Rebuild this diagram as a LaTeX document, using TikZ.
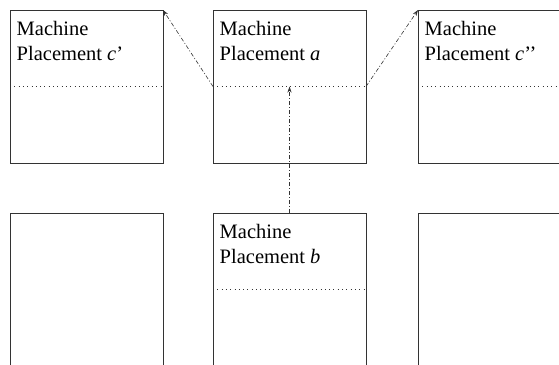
\documentclass[tikz,border=0pt]{standalone}
\usepackage{fontspec}
\setmainfont{Liberation Serif}
\usetikzlibrary{positioning,arrows.meta}
\begin{document}
\begin{tikzpicture}[x=1pt,y=1pt]
        \tikzstyle{placebox}=[rectangle,draw=black!80,line width=0.8pt,minimum width=153pt,minimum height=153pt,outer sep=0pt,inner sep=0pt]
        \tikzstyle{placetext}=[anchor=north west,align=left,inner xsep=6.5pt,inner ysep=11.5pt,font=\fontsize{20.5}{25}\selectfont]
        \tikzstyle{splitline}=[draw=black!80,line width=0.6pt,dash pattern=on 0.8pt off 3.5pt]
        \tikzstyle{moveline}=[draw=black!80,line width=0.6pt,dash pattern=on 4pt off 2pt on 1pt off 2pt,-{Stealth[length=6pt,width=4pt]}]
        \useasboundingbox (0,0) rectangle (559,364);
        \node[placebox] (a) at (289.5,277.5) {};
        \node[placebox,left=50pt of a] (cl) {};
        \node[placebox,right=52pt of a] (cr) {};
        \node[placebox,below=50pt of a] (b) {};
        \node[placebox,below=50pt of cl] (bl) {};
        \node[placebox,below=50pt of cr] (br) {};
        \node[placetext] (ta) at (a.north west) {Machine\\Placement \textit{a}};
        \node[placetext] (tcl) at (cl.north west) {Machine\\Placement \textit{c}'};
        \node[placetext] (tcr) at (cr.north west) {Machine\\Placement \textit{c}'{}'};
        \node[placetext] (tb) at (b.north west) {Machine\\Placement \textit{b}};
        \draw[splitline] (a.west) -- (a.east);
        \draw[splitline] (cl.west) -- (cl.east);
        \draw[splitline] (cr.west) -- (cr.east);
        \draw[splitline] (b.west) -- (b.east);
        \draw[moveline] (a.west) -- (cl.north east);
        \draw[moveline] (a.east) -- (cr.north west);
        \draw[moveline] (b.north) -- (a.center);
\end{tikzpicture}
\end{document}
